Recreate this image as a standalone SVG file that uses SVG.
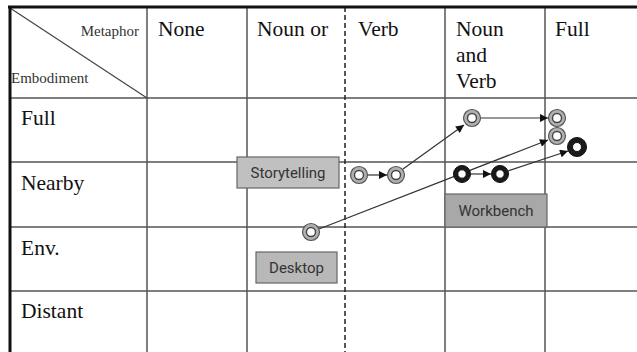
<svg xmlns="http://www.w3.org/2000/svg" width="637" height="352" viewBox="0 0 637 352">
<defs>
<style>
.grid{stroke:#555;stroke-width:1.5;fill:none}
.hdr{font-family:"Liberation Serif","Times New Roman",serif;font-size:21.5px;fill:#111}
.sm{font-family:"Liberation Serif","Times New Roman",serif;font-size:15px;fill:#333}
.box text{font-family:Roboto,"Liberation Sans",sans-serif;font-size:15px;fill:#333;text-anchor:middle}
.conn line{stroke:#333;stroke-width:1.2;fill:none}
.g circle.o{fill:#b0b0b0;stroke:#555;stroke-width:1.2}
.g circle.i{fill:#fff;stroke:#444;stroke-width:1.4}
.d circle.o{fill:#1a1a1a;stroke:#111;stroke-width:1}
.d circle.i{fill:#fff;stroke:#111;stroke-width:1}
</style>
<marker id="ah" viewBox="0 0 10 10" refX="10" refY="5" markerWidth="9" markerHeight="8" markerUnits="userSpaceOnUse" orient="auto">
<path d="M0,0 L10,5 L0,10 z" fill="#111"/>
</marker>
</defs>
<rect width="637" height="352" fill="#fff"/>
<g id="grid">
<line class="grid" x1="147" y1="7" x2="147" y2="352"/>
<line class="grid" x1="247" y1="7" x2="247" y2="352"/>
<line class="grid" x1="445" y1="7" x2="445" y2="352"/>
<line class="grid" x1="545" y1="7" x2="545" y2="352"/>
<line class="grid" x1="10" y1="98" x2="637" y2="98"/>
<line class="grid" x1="10" y1="162" x2="637" y2="162"/>
<line class="grid" x1="10" y1="227" x2="637" y2="227"/>
<line class="grid" x1="10" y1="291" x2="637" y2="291"/>
<line x1="345" y1="7" x2="345" y2="352" stroke="#222" stroke-width="1.5" stroke-dasharray="5,3"/>
<line x1="10" y1="8" x2="147" y2="98" stroke="#444" stroke-width="1.2"/>
<line x1="8" y1="7" x2="637" y2="7" stroke="#111" stroke-width="3"/>
<line x1="10" y1="6" x2="10" y2="352" stroke="#111" stroke-width="3"/>
</g>
<g id="headers">
<text class="sm" x="139" y="36" text-anchor="end">Metaphor</text>
<text class="sm" x="11" y="83">Embodiment</text>
<text class="hdr" x="158" y="36">None</text>
<text class="hdr" x="257" y="36">Noun or</text>
<text class="hdr" x="358" y="36">Verb</text>
<text class="hdr" x="456" y="36">Noun</text>
<text class="hdr" x="456" y="62">and</text>
<text class="hdr" x="456" y="88">Verb</text>
<text class="hdr" x="555" y="36">Full</text>
<text class="hdr" x="21" y="125">Full</text>
<text class="hdr" x="21" y="190">Nearby</text>
<text class="hdr" x="21" y="255">Env.</text>
<text class="hdr" x="21" y="318">Distant</text>
</g>
<g id="connectors" class="conn">
<line x1="368" y1="175" x2="387" y2="175" marker-end="url(#ah)"/>
<line x1="403" y1="169" x2="464" y2="125" marker-end="url(#ah)"/>
<line x1="481" y1="118" x2="548" y2="118" marker-end="url(#ah)"/>
<line x1="319" y1="229" x2="548" y2="140" marker-end="url(#ah)"/>
<line x1="471" y1="174" x2="491" y2="174" marker-end="url(#ah)"/>
<line x1="508" y1="171" x2="568" y2="151" marker-end="url(#ah)"/>
</g>
<g id="storytelling" class="box">
<rect x="237" y="157" width="102" height="31" fill="#c0c0c0" stroke="#666" stroke-width="1.2"/>
<text x="288" y="178">Storytelling</text>
</g>
<g id="desktop" class="box">
<rect x="256" y="252" width="81" height="31" fill="#b8b8b8" stroke="#666" stroke-width="1.2"/>
<text x="296.500" y="273">Desktop</text>
</g>
<g id="workbench" class="box">
<rect x="445" y="194" width="102" height="33" fill="#a8a8a8" stroke="#666" stroke-width="1.2"/>
<text x="496" y="216">Workbench</text>
</g>
<g id="n1" class="g"><circle class="o" cx="359" cy="175" r="8.5"/><circle class="i" cx="359" cy="175" r="4.5"/></g>
<g id="n2" class="g"><circle class="o" cx="396" cy="175" r="8.5"/><circle class="i" cx="396" cy="175" r="4.5"/></g>
<g id="n3" class="g"><circle class="o" cx="472" cy="118" r="8.5"/><circle class="i" cx="472" cy="118" r="4.5"/></g>
<g id="n4" class="g"><circle class="o" cx="557" cy="118" r="8.5"/><circle class="i" cx="557" cy="118" r="4.5"/></g>
<g id="n5" class="g"><circle class="o" cx="557" cy="136" r="8.5"/><circle class="i" cx="557" cy="136" r="4.5"/></g>
<g id="n6" class="g"><circle class="o" cx="311" cy="232" r="8.5"/><circle class="i" cx="311" cy="232" r="4.5"/></g>
<g id="n7" class="d"><circle class="o" cx="462" cy="174" r="8.5"/><circle class="i" cx="462" cy="174" r="4.2"/></g>
<g id="n8" class="d"><circle class="o" cx="500" cy="174" r="8.5"/><circle class="i" cx="500" cy="174" r="4.2"/></g>
<g id="n9" class="d"><circle class="o" cx="577" cy="147" r="9.5"/><circle class="i" cx="577" cy="147" r="4.5"/></g>
</svg>
